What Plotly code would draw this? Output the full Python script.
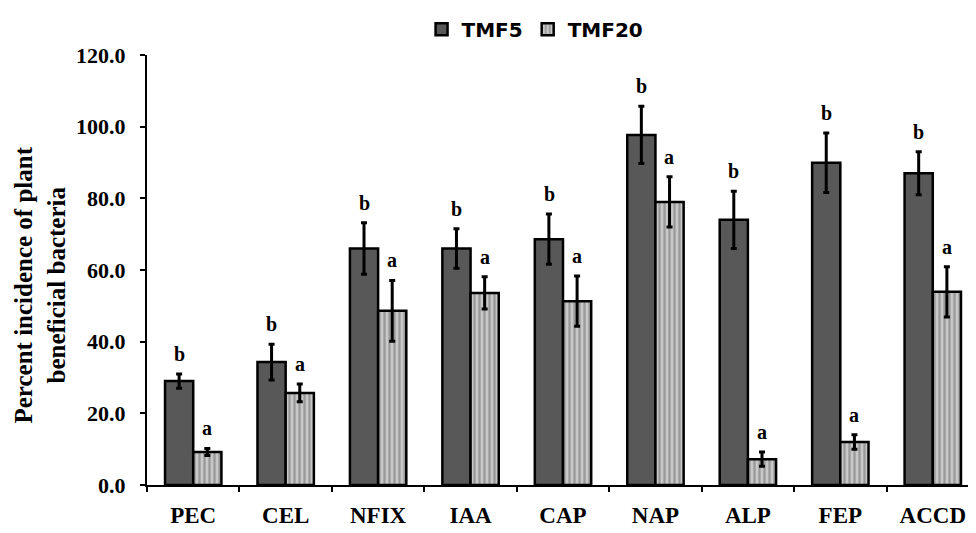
import plotly.graph_objects as go

categories = ["PEC", "CEL", "NFIX", "IAA", "CAP", "NAP", "ALP", "FEP", "ACCD"]
tmf5 = [29.0, 34.3, 66.0, 66.0, 68.6, 97.7, 74.0, 89.9, 87.0]
tmf5_err = [2.0, 5.0, 7.2, 5.5, 7.0, 8.0, 8.0, 8.3, 6.0]
tmf20 = [9.2, 25.7, 48.6, 53.6, 51.3, 79.0, 7.2, 12.0, 53.9]
tmf20_err = [1.0, 2.5, 8.5, 4.5, 7.0, 7.0, 2.0, 2.0, 7.0]
tmf5_letters = ["b"] * 9
tmf20_letters = ["a"] * 9
y_title = "Percent incidence of plant<br>beneficial bacteria"

serif = "Liberation Serif"

fig = go.Figure()
fig.add_trace(go.Bar(
    name="TMF5", x=categories, y=tmf5,
    marker=dict(color="#585858", line=dict(color="black", width=2.5)),
    error_y=dict(type="data", array=tmf5_err, color="black", thickness=3, width=3),
))
fig.add_trace(go.Bar(
    name="TMF20", x=categories, y=tmf20,
    marker=dict(color="#c4c4c4", line=dict(color="black", width=2.5),
                pattern=dict(shape="|", fgcolor="#6a6a6a", bgcolor="#c8c8c8",
                             size=5, solidity=0.45)),
    error_y=dict(type="data", array=tmf20_err, color="black", thickness=3, width=3),
))

annotations = []
for i, c in enumerate(categories):
    annotations.append(dict(x=c, y=tmf5[i] + tmf5_err[i], text=tmf5_letters[i],
                            xref="x", yref="y", xshift=-14, yshift=7, yanchor="bottom",
                            showarrow=False, font=dict(family=serif, size=20, color="black", weight="bold")))
    annotations.append(dict(x=c, y=tmf20[i] + tmf20_err[i], text=tmf20_letters[i],
                            xref="x", yref="y", xshift=14, yshift=7, yanchor="bottom",
                            showarrow=False, font=dict(family=serif, size=20, color="black", weight="bold")))

# y-axis title (placed as rotated annotation to match vertical position)
annotations.append(dict(x=-0.128, y=0.465, xref="paper", yref="paper", text=y_title,
                        textangle=-90, showarrow=False, xanchor="center", yanchor="middle",
                        font=dict(family=serif, size=25, color="black", weight="bold")))

fig.update_layout(
    width=976, height=533,
    paper_bgcolor="white", plot_bgcolor="white",
    margin=dict(l=139, r=5, t=47, b=56, autoexpand=False),
    barmode="group", bargap=0.39, bargroupgap=0.0,
    annotations=annotations,
    legend=dict(orientation="h", x=0.33, y=1.06, xanchor="left", yanchor="middle",
                font=dict(family="DejaVu Sans", size=20, color="black", weight="bold"),
                bgcolor="rgba(0,0,0,0)"),
    xaxis=dict(showline=True, linecolor="black", linewidth=2, ticks="outside",
               tickson="boundaries", ticklen=5, tickwidth=2, tickcolor="black",
               ticklabelstandoff=8,
               tickfont=dict(family=serif, size=23, color="black", weight="bold"),
               showgrid=False, automargin=False),
    yaxis=dict(range=[0, 120], dtick=20, tickformat=".1f", showline=True,
               linecolor="black", linewidth=2, ticks="outside", ticklen=5,
               tickwidth=2, tickcolor="black", showgrid=False, zeroline=False,
               automargin=False, ticklabelstandoff=10,
               tickfont=dict(family=serif, size=22, color="black", weight="bold")),
)

fig.write_html("out.html")
